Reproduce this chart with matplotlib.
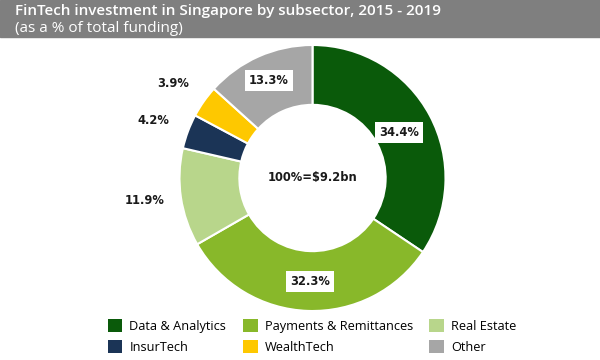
import numpy as np
import matplotlib
matplotlib.use("Agg")
import matplotlib.pyplot as plt
from matplotlib.patches import Patch, Rectangle

# data
sectors = ["Data & Analytics", "Payments & Remittances", "Real Estate",
           "InsurTech", "WealthTech", "Other"]
shares = [34.4, 32.3, 11.9, 4.2, 3.9, 13.3]
colors = ["#0a5a0a", "#88b82a", "#b8d68b", "#1b3456", "#fec800", "#a6a6a6"]
label_txt = ["34.4%", "32.3%", "11.9%", "4.2%", "3.9%", "13.3%"]
center_txt = "100%=$9.2bn"

# label placement (axes data units) and whether boxed
label_pos = [(0.65, 0.34), (-0.02, -0.78), (-1.26, -0.17),
             (-1.20, 0.43), (-1.05, 0.71), (-0.33, 0.73)]
boxed = [True, True, False, False, False, True]

fig = plt.figure(figsize=(6, 3.6), dpi=100)

# title bar
fig.patches.append(Rectangle((0, 1 - 37 / 360), 1, 37 / 360,
                             transform=fig.transFigure, color="#7f7f7f", zorder=0))
fig.text(15 / 600, 1 - 11.5 / 360, "FinTech investment in Singapore by subsector, 2015 - 2019",
         color="white", fontsize=11, family="Open Sans", fontweight="semibold",
         va="center", ha="left")
fig.text(15 / 600, 1 - 28.5 / 360, "(as a % of total funding)",
         color="white", fontsize=11, family="Open Sans", va="center", ha="left")

ax = fig.add_axes([179.5 / 600, 49 / 360, 266 / 600, 266 / 360])
ax.pie(shares, colors=colors, startangle=90, counterclock=False, radius=1,
       wedgeprops=dict(width=0.45, edgecolor="white", linewidth=1.5))
ax.set_xlim(-1, 1)
ax.set_ylim(-1, 1)
ax.set_aspect("equal")
ax.axis("off")

for txt, (x, y), b in zip(label_txt, label_pos, boxed):
    kw = {}
    if b:
        kw["bbox"] = dict(boxstyle="square,pad=0.35", fc="white", ec="none")
    ax.text(x, y, txt, ha="center", va="center", fontsize=8.3, fontweight="bold",
            family="DejaVu Sans", color="#1a1a1a", clip_on=False, **kw)

ax.text(0, 0, center_txt, ha="center", va="center", fontsize=8.3,
        fontweight="bold", color="#1a1a1a")

# legend goes row by row in the reference, matplotlib fills by column
order = [0, 3, 1, 4, 2, 5]
handles = [Patch(facecolor=colors[i], edgecolor="none") for i in order]
names = [sectors[i] for i in order]
fig.legend(handles, names, loc="center", bbox_to_anchor=(0.52, 1 - 336.5 / 360),
           ncol=3, frameon=False, prop={"family": "Open Sans", "size": 9.2},
           handlelength=1.15, handleheight=1.15, handletextpad=0.55,
           columnspacing=1.3, labelspacing=0.55, borderpad=0)

fig.savefig("out.png", dpi=100)
